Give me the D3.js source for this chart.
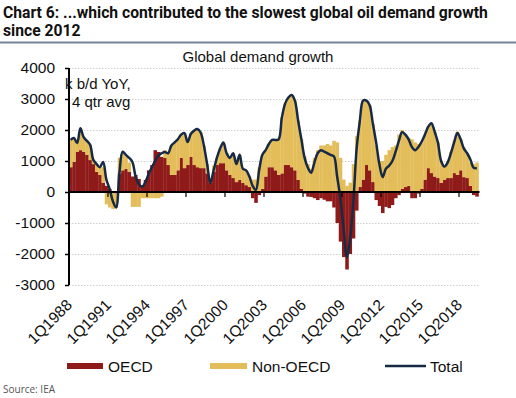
<!DOCTYPE html>
<html>
<head>
<meta charset="utf-8">
<script src="https://cdn.jsdelivr.net/npm/d3@7/dist/d3.min.js"></script>
<style>
  body { margin: 0; background: #fff; }
  svg { display: block; }
</style>
</head>
<body>
<svg id="chart" width="516" height="398"></svg>
<script>
// quarterly series, 1Q1988 .. 2Q2019, k b/d YoY (4 qtr avg)
const quarters = d3.range(126).map(i => (i % 4 + 1) + 'Q' + (1988 + Math.floor(i / 4)));
const tickLabels = ['1Q1988', '1Q1991', '1Q1994', '1Q1997', '1Q2000', '1Q2003', '1Q2006', '1Q2009', '1Q2012', '1Q2015', '1Q2018'];
const yTicks = [-3000, -2000, -1000, 0, 1000, 2000, 3000, 4000];

const oecd = [
  800, 970, 1290, 1350, 1300, 1200, 1030, 900, 650, 550,
  300, 200, 100, 0, -50, 600, 700, 750, 650, 500,
  550, 420, 220, 390, 700, 870, 1350, 1290, 1130, 1100,
  870, 550, 550, 700, 1100, 770, 870, 1130, 870, 800,
  770, 770, 600, 300, 650, 870, 930, 930, 700, 550,
  450, 320, 390, 290, 220, 160, -200, -350, -100, 100,
  500, 800, 800, 700, 550, 600, 870, 870, 800, 700,
  390, 100, -50, -150, -160, -200, -260, -200, -250, -300,
  -300, -500, -1000, -1600, -2100, -2500, -2000, -1500, -600, 160,
  400, 870, 700, 320, -260, -450, -680, -480, -520, -420,
  -200, -100, 100, 160, 200, -200, -200, -50, 100, 400,
  770, 610, 500, 450, 290, 400, 450, 450, 610, 550,
  700, 480, 450, 200, -100, -150
];
const nonOecd = [
  880, 770, 350, 700, 470, 450, 490, 150, 250, 250,
  500, -400, -500, -550, -450, 500, 550, 400, 300, -480,
  -480, -480, -200, -200, -200, -200, -200, -200, -150, 250,
  400, 950, 1050, 1000, 750, 1130, 740, 750, 1110, 1230,
  1150, 730, 300, 20, 200, 230, 470, 670, 550, 550,
  800, 580, 810, 460, 480, 340, 400, 400, 800, 1100,
  850, 750, 880, 980, 1150, 1800, 1980, 2180, 2330, 2250,
  1910, 1600, 1150, 900, 750, 1100, 1350, 1500, 1500, 1550,
  1500, 1650, 1600, 1100, 400, 200, 300, 900, 1800, 2140,
  2550, 2100, 2100, 1880, 1500, 1000, 1000, 1200, 1350, 1450,
  1500, 1850, 1900, 1700, 1550, 1700, 1600, 1550, 1500, 1450,
  1350, 1600, 1450, 1150, 700, 450, 550, 850, 1050, 1400,
  1000, 950, 800, 750, 900, 950
];
const total = [
  1680, 1740, 1580, 2060, 1770, 1650, 1520, 1030, 900, 800,
  970, 400, 100, -300, -500, 600, 1300, 1200, 1100, 970,
  500, 250, 170, 320, 580, 800, 1000, 1180, 1250, 1290,
  1250, 1500, 1600, 1700, 1850, 1900, 1610, 1880, 1980, 2030,
  1920, 1500, 900, 290, 700, 1100, 1400, 1600, 1250, 1100,
  1250, 900, 1200, 750, 700, 500, 200, 60, 700, 1200,
  1350, 1550, 1680, 1680, 1700, 2400, 2850, 3050, 3130, 2950,
  2300, 1700, 1100, 780, 620, 950, 1250, 1350, 1300, 1250,
  1200, 1150, 500, -200, -1200, -2100, -1500, -300, 1400, 2300,
  2950, 2950, 2800, 2200, 1600, 900, 480, 750, 850, 1000,
  1300, 1650, 1930, 1850, 1700, 1450, 1350, 1450, 1620, 1850,
  2100, 2220, 1950, 1600, 1000, 820, 950, 1250, 1600, 1900,
  1700, 1400, 1250, 1050, 780, 770
];

const colors = { oecd: '#8e1b19', non: '#e4bd5b', total: '#172a45' };
const font = "'Liberation Sans', Arial, sans-serif";

const svg = d3.select('#chart');
const m = { left: 69, right: 478.5, top: 68, bottom: 285 };

// title
const title = svg.append('g').attr('font-family', "Roboto, sans-serif").attr('font-weight', 700)
  .attr('font-size', 16.5).attr('fill', '#111');
const t1 = title.append('text').attr('x', 0).attr('y', 18)
  .text('Chart 6: ...which contributed to the slowest global oil demand growth');
title.append('text').attr('x', 0).attr('y', 36).text('since 2012');
const sx = 485 / t1.node().getComputedTextLength();
title.attr('transform', `translate(3,0) scale(${sx},1)`);

svg.append('line').attr('x1', 0).attr('x2', 516).attr('y1', 42.5).attr('y2', 42.5)
  .attr('stroke', '#73839a').attr('stroke-width', 2);

svg.append('text').attr('x', 258).attr('y', 62).attr('text-anchor', 'middle')
  .attr('font-family', font).attr('font-size', 15).attr('fill', '#111')
  .text('Global demand growth');

// scales
const x = d3.scaleBand().domain(quarters).range([m.left, m.right]).padding(0);
const y = d3.scaleLinear().domain([-3000, 4000]).range([m.bottom, m.top]);

// grid
svg.append('g').selectAll('line').data(yTicks.filter(d => d !== 0)).join('line')
  .attr('x1', m.left).attr('x2', m.right)
  .attr('y1', d => y(d) + 0.5).attr('y2', d => y(d) + 0.5)
  .attr('stroke', '#cfcfcf').attr('stroke-dasharray', '1.5,1.5');

// stacked bars
const rows = quarters.map((q, i) => ({ q, oecd: oecd[i], non: nonOecd[i] }));
const series = d3.stack().keys(['oecd', 'non']).offset(d3.stackOffsetDiverging)(rows);
svg.append('g').selectAll('g').data(series).join('g')
  .attr('fill', d => d.key === 'oecd' ? colors.oecd : colors.non)
  .selectAll('rect').data(d => d).join('rect')
  .attr('x', d => x(d.data.q))
  .attr('width', x.bandwidth() + 0.3)
  .attr('y', d => y(Math.max(d[0], d[1])))
  .attr('height', d => Math.abs(y(d[0]) - y(d[1])));

// total line
const line = d3.line()
  .x((d, i) => x(quarters[i]) + x.bandwidth() / 2)
  .y(d => y(d))
  .curve(d3.curveCatmullRom.alpha(0.5));
svg.append('path').datum(total).attr('d', line)
  .attr('fill', 'none').attr('stroke', colors.total).attr('stroke-width', 2.5)
  .attr('stroke-linejoin', 'round');

// y axis
const yAxis = svg.append('g').attr('transform', `translate(${m.left},0)`)
  .call(d3.axisLeft(y).tickValues(yTicks).tickSize(4).tickPadding(10).tickFormat(d3.format('d')));
yAxis.select('.domain').attr('stroke', '#000').attr('stroke-width', 2).attr('d', `M0,${m.top}V${m.bottom}`);
yAxis.selectAll('.tick line').attr('stroke', '#000').attr('stroke-width', 1.5);
yAxis.selectAll('.tick text').attr('font-family', font).attr('font-size', 15.5).attr('fill', '#111')
  .text(d => d < 0 ? '-' + Math.abs(d) : d);

// x axis along zero
const xAxis = svg.append('g').attr('transform', `translate(0,${y(0)})`);
xAxis.append('line').attr('x1', m.left).attr('x2', m.right + 1).attr('stroke', '#000').attr('stroke-width', 2.2);
xAxis.selectAll('line.tk').data(tickLabels).join('line').attr('class', 'tk')
  .attr('x1', d => x(d)).attr('x2', d => x(d)).attr('y1', 0).attr('y2', 5)
  .attr('stroke', '#000').attr('stroke-width', 1.2);

svg.append('g').selectAll('text').data(tickLabels).join('text')
  .attr('transform', d => `translate(${x(d) + 4},${m.bottom + 21}) rotate(-45)`)
  .attr('text-anchor', 'end').attr('font-family', font).attr('font-size', 15.5).attr('fill', '#111')
  .text(d => d);

// unit label
const unit = svg.append('g').attr('font-family', font).attr('font-size', 15).attr('fill', '#111');
unit.append('text').attr('x', 65).attr('y', 89).text('k b/d YoY,');
unit.append('text').attr('x', 72).attr('y', 107).text('4 qtr avg');

// legend
const lg = svg.append('g').attr('font-family', font).attr('font-size', 15.5).attr('fill', '#111');
lg.append('rect').attr('x', 67).attr('y', 363).attr('width', 36).attr('height', 6).attr('fill', colors.oecd);
lg.append('text').attr('x', 108).attr('y', 372).text('OECD');
lg.append('rect').attr('x', 210).attr('y', 363).attr('width', 37).attr('height', 6).attr('fill', colors.non);
lg.append('text').attr('x', 252).attr('y', 372).text('Non-OECD');
lg.append('line').attr('x1', 385).attr('x2', 426).attr('y1', 366).attr('y2', 366)
  .attr('stroke', colors.total).attr('stroke-width', 2.5);
lg.append('text').attr('x', 430).attr('y', 372).text('Total');

svg.append('text').attr('x', 3).attr('y', 393).attr('font-family', "'Open Sans', sans-serif")
  .attr('font-size', 10).attr('fill', '#555').text('Source: IEA');
</script>
</body>
</html>
